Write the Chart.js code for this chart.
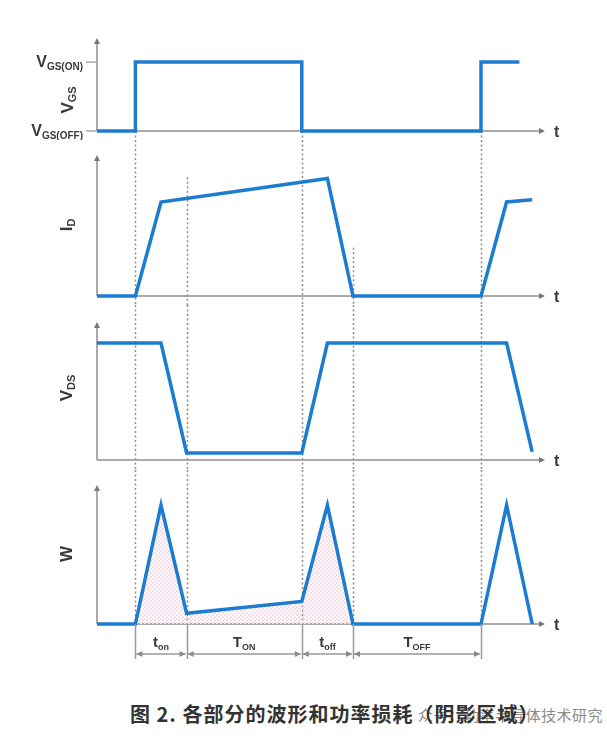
<!DOCTYPE html>
<html>
<head>
<meta charset="utf-8">
<script src="https://cdn.jsdelivr.net/npm/chart.js@4.4.0/dist/chart.umd.min.js"></script>
<style>
  body { margin: 0; background: #fff; width: 607px; height: 739px; overflow: hidden; position: relative; }
  canvas { position: absolute; left: 0; }
  #mark { position: absolute; left: 418px; top: 704px; font: 15px "Noto Sans CJK SC"; color: #8a8a8a; white-space: nowrap; letter-spacing: 0.4px; }
  #caption { position: absolute; left: 130px; top: 699px; font: bold 20px "Noto Sans CJK SC"; color: #333; white-space: nowrap; letter-spacing: 1px; }
</style>
</head>
<body>
<canvas id="vgs"></canvas>
<canvas id="id"></canvas>
<canvas id="vds"></canvas>
<canvas id="w"></canvas>
<div id="mark">众号：功率半导体技术研究</div>
<div id="caption">图 2. 各部分的波形和功率损耗（阴影区域）</div>
<script>
// time axis (arbitrary units), switching instants
const T_END = 35;
const edges = [3, 7, 16, 20, 30];

// gate voltage
const vgsT = [0, 3, 3, 16, 16, 30, 30, 33];
const vgsV = [0, 0, 1, 1, 0, 0, 1, 1];

// drain current
const idT = [0, 3, 5, 18, 20, 30, 32, 34];
const idV = [0, 0, 0.8, 1.0, 0, 0, 0.8, 0.82];

// drain-source voltage
const vdsT = [0, 5, 7, 16, 18, 32, 34];
const vdsV = [1, 1, 0.06, 0.06, 1, 1, 0.07];

// power
const wT = [0, 3, 5, 7, 16, 18, 20, 30, 32, 34];
const wV = [0, 0, 1, 0.09, 0.19, 1, 0, 0, 1, 0];

// shaded loss area
const lossT = [3, 5, 7, 16, 18, 20];
const lossV = [0, 1, 0.09, 0.19, 1, 0];

// interval labels under the W trace
const spanFrom = [3, 7, 16, 20];
const spanTo = [7, 16, 20, 30];
const spanMain = ['t', 'T', 't', 'T'];
const spanSub = ['on', 'ON', 'off', 'OFF'];

const BLUE = '#1c7cd0';
const AXIS = '#aaa';
const TXT = '#3a3a3a';

const pts = (xs, ys) => xs.map((x, i) => ({ x, y: ys[i] }));

function hatch() {
  const c = document.createElement('canvas');
  c.width = c.height = 4;
  const p = c.getContext('2d');
  p.fillStyle = '#f7dbe6';
  p.fillRect(0, 0, 2, 2);
  p.fillRect(2, 2, 2, 2);
  return p.createPattern(c, 'repeat');
}

// draws main letter + subscript, left edge at x, baseline at y; returns width
function subText(ctx, main, sub, x, y, size, draw = true) {
  ctx.font = `bold ${size}px "Liberation Sans", Arial, sans-serif`;
  const w1 = ctx.measureText(main).width;
  const sSize = Math.round(size * 0.62);
  ctx.font = `bold ${sSize}px "Liberation Sans", Arial, sans-serif`;
  const w2 = ctx.measureText(sub).width;
  if (draw) {
    ctx.font = `bold ${size}px "Liberation Sans", Arial, sans-serif`;
    ctx.fillText(main, x, y);
    ctx.font = `bold ${sSize}px "Liberation Sans", Arial, sans-serif`;
    ctx.fillText(sub, x + w1, y + size * 0.18);
  }
  return w1 + w2;
}

function arrowHead(ctx, x, y, dir) {
  ctx.save();
  ctx.translate(x, y);
  ctx.rotate(dir);
  ctx.beginPath();
  ctx.moveTo(0, 0);
  ctx.lineTo(-6, -3);
  ctx.lineTo(-6, 3);
  ctx.closePath();
  ctx.fill();
  ctx.restore();
}

const wavePlugin = {
  id: 'wave',
  beforeDatasetsDraw(chart, args, o) {
    const { ctx, chartArea: a, scales: { x, y } } = chart;
    const base = y.getPixelForValue(0);
    ctx.save();
    // guide lines
    ctx.strokeStyle = '#8c8c8c';
    ctx.lineWidth = 1.5;
    ctx.setLineDash([2, 2.5]);
    (o.guides || []).forEach(g => {
      const px = Math.round(x.getPixelForValue(g[0])) + 0.5;
      const y0 = g[1] == null ? 0 : y.getPixelForValue(g[1]);
      const y1 = g[2] == null ? chart.height : y.getPixelForValue(g[2]);
      ctx.beginPath();
      ctx.moveTo(px, y0);
      ctx.lineTo(px, y1);
      ctx.stroke();
    });
    ctx.setLineDash([]);
    // axes
    ctx.strokeStyle = AXIS;
    ctx.lineWidth = 2;
    ctx.beginPath();
    ctx.moveTo(a.left, base);
    ctx.lineTo(a.left, a.top + 2);
    ctx.moveTo(a.left, base);
    ctx.lineTo(a.right - 2, base);
    ctx.stroke();
    ctx.fillStyle = '#777';
    arrowHead(ctx, a.left, a.top, -Math.PI / 2);
    arrowHead(ctx, a.right, base, 0);
    ctx.restore();
  },
  afterDraw(chart, args, o) {
    const { ctx, chartArea: a, scales: { x, y } } = chart;
    const base = y.getPixelForValue(0);
    ctx.save();
    ctx.fillStyle = TXT;
    ctx.textBaseline = 'alphabetic';
    ctx.font = 'bold 16px "Liberation Sans", Arial, sans-serif';
    ctx.fillText('t', a.right + 9, base + 6);
    // rotated axis title (position inside this canvas)
    ctx.save();
    ctx.translate(o.titleX, o.titleY);
    ctx.rotate(-Math.PI / 2);
    const tw = subText(ctx, o.title[0], o.title[1], 0, 0, 17, false);
    subText(ctx, o.title[0], o.title[1], -tw / 2, 6, 17);
    ctx.restore();
    // level ticks
    (o.levels || []).forEach(l => {
      const py = y.getPixelForValue(l[0]);
      ctx.strokeStyle = AXIS;
      ctx.lineWidth = 1.5;
      ctx.beginPath();
      ctx.moveTo(a.left - 11, py);
      ctx.lineTo(a.left, py);
      ctx.stroke();
      const w = subText(ctx, l[1], l[2], 0, 0, 16, false);
      subText(ctx, l[1], l[2], a.left - 14 - w, py + 5, 16);
    });
    // interval dimensions
    if (o.spans) {
      const dimY = base + 30;
      ctx.strokeStyle = '#9a9a9a';
      ctx.fillStyle = '#8a8a8a';
      ctx.lineWidth = 1.5;
      edges.forEach(t => {
        const px = Math.round(x.getPixelForValue(t)) + 0.5;
        ctx.beginPath();
        ctx.moveTo(px, base);
        ctx.lineTo(px, base + 35);
        ctx.stroke();
      });
      spanFrom.forEach((f, i) => {
        const x0 = x.getPixelForValue(f) + 1;
        const x1 = x.getPixelForValue(spanTo[i]) - 1;
        ctx.beginPath();
        ctx.moveTo(x0, dimY);
        ctx.lineTo(x1, dimY);
        ctx.stroke();
        arrowHead(ctx, x0, dimY, Math.PI);
        arrowHead(ctx, x1, dimY, 0);
        ctx.fillStyle = TXT;
        const w = subText(ctx, spanMain[i], spanSub[i], 0, 0, 15, false);
        subText(ctx, spanMain[i], spanSub[i], (x0 + x1) / 2 - w / 2, base + 23, 15);
        ctx.fillStyle = '#8a8a8a';
      });
    }
    ctx.restore();
  }
};

function trace(xs, ys) {
  return {
    data: pts(xs, ys), borderColor: BLUE, borderWidth: 3.5,
    borderJoinStyle: 'miter', borderCapStyle: 'butt', fill: false, clip: false
  };
}

function panel(id, top, height, padTop, padBottom, yMax, datasets, deco) {
  const c = document.getElementById(id);
  c.width = 607;
  c.height = height;
  c.style.top = top + 'px';
  return new Chart(c, {
    type: 'line',
    data: { datasets },
    options: {
      responsive: false, animation: false, devicePixelRatio: 1,
      layout: { padding: { left: 97, right: 62, top: padTop, bottom: padBottom } },
      scales: {
        x: { type: 'linear', min: 0, max: T_END, display: false },
        y: { min: 0, max: yMax, display: false }
      },
      elements: { point: { radius: 0 }, line: { tension: 0 } },
      plugins: { legend: { display: false }, tooltip: { enabled: false }, wave: deco }
    },
    plugins: [wavePlugin]
  });
}

panel('vgs', 0, 140, 38, 9, 1.35, [trace(vgsT, vgsV)], {
  title: ['V', 'GS'], titleX: 67, titleY: 100,
  levels: [[1, 'V', 'GS(ON)'], [0, 'V', 'GS(OFF)']],
  guides: [[3, 0, null], [16, 0, null], [30, 0, null]]
});

panel('id', 140, 165, 15, 9, 1.2, [trace(idT, idV)], {
  title: ['I', 'D'], titleX: 66, titleY: 85,
  guides: [[3, null, null], [16, null, null], [30, null, null], [7, 1.01, null], [20, 0.41, null]]
});

panel('vds', 305, 165, 17, 10, 1.18, [trace(vdsT, vdsV)], {
  title: ['V', 'DS'], titleX: 66, titleY: 83,
  guides: edges.map(t => [t, null, null])
});

panel('w', 470, 200, 15, 46, 1.17, [
  trace(wT, wV),
  { data: pts(lossT, lossV), borderWidth: 0, backgroundColor: hatch(), fill: 'origin', clip: false }
], {
  title: ['W', ''], titleX: 66, titleY: 84,
  guides: edges.map(t => [t, null, 0]),
  spans: true
});
</script>
</body>
</html>
